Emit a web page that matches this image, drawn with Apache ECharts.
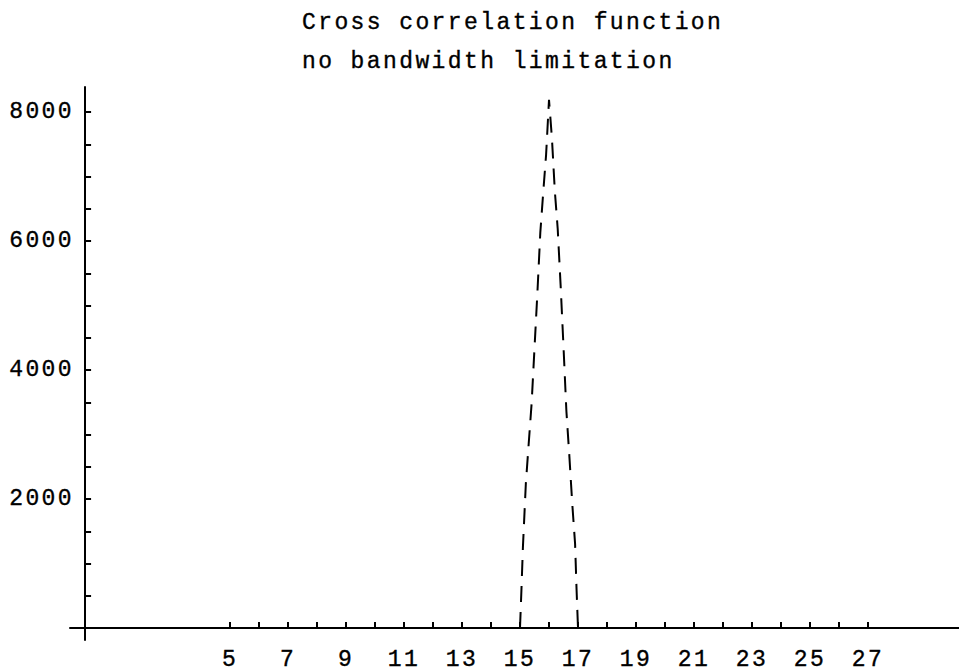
<!DOCTYPE html>
<html>
<head>
<meta charset="utf-8">
<script src="https://cdn.jsdelivr.net/npm/echarts@6/dist/echarts.min.js"></script>
<style>
  html, body { margin: 0; padding: 0; background: #fff; }
  #chart { width: 959px; height: 672px; }
  #chart text { letter-spacing: 2.4px; }
</style>
</head>
<body>
<div id="chart"></div>
<script>
// Data
const titleLines = ["Cross correlation function", "no bandwidth limitation"];
const lagValues = [15.0, 15.05, 15.1, 15.2, 15.3, 15.4, 15.5, 15.6, 15.7, 15.8, 15.9, 16.0,
                   16.1, 16.2, 16.3, 16.4, 16.5, 16.6, 16.7, 16.8, 16.9, 16.95, 17.0];
const corrValues = [0, 600, 1250, 2230, 2860, 3480, 4340, 5200, 6130, 6750, 7340, 8190,
                    7600, 6780, 6190, 5320, 4360, 3360, 2680, 1940, 1300, 600, 0];
const xTickValues = [5, 6, 7, 8, 9, 10, 11, 12, 13, 14, 15, 16, 17, 18, 19, 20, 21, 22, 23, 24, 25, 26, 27];
const xLabelValues = [5, 7, 9, 11, 13, 15, 17, 19, 21, 23, 25, 27];
const yTickValues = [500, 1000, 1500, 2000, 2500, 3000, 3500, 4000, 4500, 5000, 5500, 6000, 6500, 7000, 7500, 8000];
const yLabelValues = [2000, 4000, 6000, 8000];
const xRange = [-0.52, 30.14];
const yRange = [-186, 8388];

const font = '"Liberation Mono", "DejaVu Sans Mono", monospace';
const chart = echarts.init(document.getElementById('chart'), null, { renderer: 'svg' });

const textWeight = { textBorderColor: '#000', textBorderWidth: 0.35 };

chart.setOption({
  animation: false,
  backgroundColor: '#ffffff',
  title: {
    text: titleLines.join('\n'),
    left: 302,
    top: 3,
    padding: 0,
    textAlign: 'left',
    textStyle: Object.assign({
      fontFamily: font,
      fontSize: 23,
      fontWeight: 'normal',
      color: '#000',
      lineHeight: 39
    }, textWeight)
  },
  grid: {
    left: 70,
    right: 0,
    top: 87,
    bottom: 32,
    containLabel: false,
    outerBoundsMode: 'none'
  },
  xAxis: {
    type: 'value',
    min: xRange[0],
    max: xRange[1],
    axisLine: { onZero: true, lineStyle: { color: '#000', width: 2 } },
    axisTick: { show: true, inside: true, length: 6, customValues: xTickValues, lineStyle: { color: '#000', width: 2 } },
    axisLabel: Object.assign({
      show: true,
      customValues: xLabelValues,
      margin: 8,
      fontFamily: font,
      fontSize: 23,
      color: '#000',
      formatter: v => String(v)
    }, textWeight),
    splitLine: { show: false }
  },
  yAxis: {
    type: 'value',
    min: yRange[0],
    max: yRange[1],
    axisLine: { show: true, onZero: true, lineStyle: { color: '#000', width: 2 } },
    axisTick: { show: true, inside: true, length: 6, customValues: yTickValues, lineStyle: { color: '#000', width: 2 } },
    axisLabel: Object.assign({
      show: true,
      customValues: yLabelValues,
      margin: -4,
      padding: [3, 0, 0, 0],
      fontFamily: font,
      fontSize: 23,
      color: '#000',
      formatter: v => String(v)
    }, textWeight),
    splitLine: { show: false }
  },
  series: [{
    type: 'line',
    data: lagValues.map((x, i) => [x, corrValues[i]]),
    showSymbol: false,
    symbol: 'none',
    lineStyle: { color: '#000', width: 2, type: [16, 10] },
    z: 1
  }]
});
</script>
</body>
</html>
